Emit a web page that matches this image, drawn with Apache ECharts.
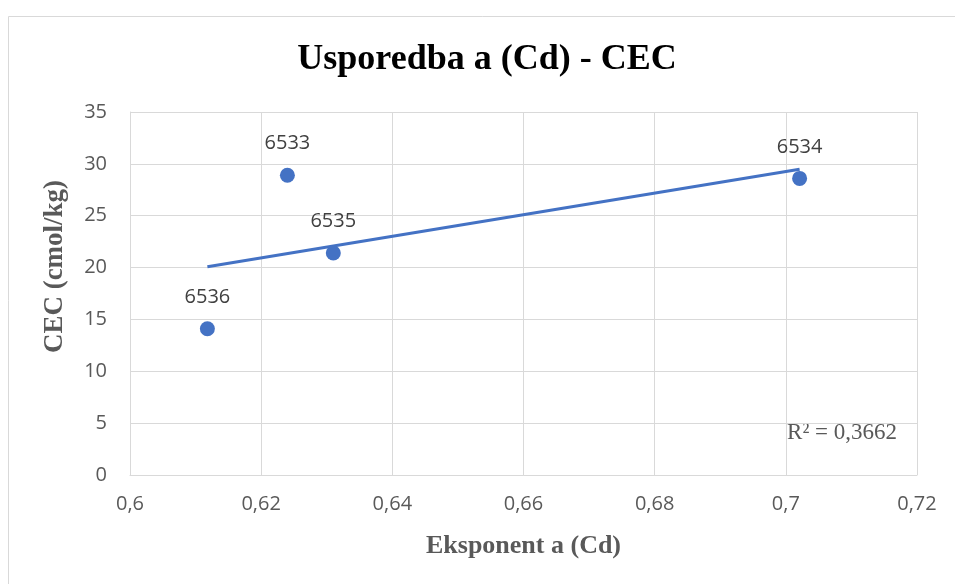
<!DOCTYPE html>
<html>
<head>
<meta charset="utf-8">
<script src="https://cdn.jsdelivr.net/npm/echarts@6/dist/echarts.min.js"></script>
<style>
  html, body { margin: 0; padding: 0; background: #fff; }
  #chart { width: 955px; height: 584px; }
</style>
</head>
<body>
<div id="chart"></div>
<script>
// uzorci i vrijednosti očitane sa slike
const sampleNames = ['6536', '6533', '6535', '6534'];
const exponentA = [0.6118, 0.6240, 0.6310, 0.7021];
const cecValues = [14.1, 28.9, 21.4, 28.6];
const r2Text = 'R² = 0,3662';

// linearni trend (najmanji kvadrati)
const n = exponentA.length;
const mx = exponentA.reduce((s, v) => s + v, 0) / n;
const my = cecValues.reduce((s, v) => s + v, 0) / n;
let sxy = 0, sxx = 0;
exponentA.forEach((x, i) => {
    sxy += (x - mx) * (cecValues[i] - my);
    sxx += (x - mx) * (x - mx);
});
const slope = sxy / sxx;
const intercept = my - slope * mx;
const xMin = Math.min(...exponentA);
const xMax = Math.max(...exponentA);
const trend = [[xMin, intercept + slope * xMin], [xMax, intercept + slope * xMax]];

const points = exponentA.map((x, i) => ({ value: [x, cecValues[i]], name: sampleNames[i] }));

const gridColor = '#d9d9d9';
const labelColor = '#595959';
const serif = '"Liberation Serif", "Times New Roman", serif';
const sans = '"Open Sans", "Noto Sans", sans-serif';

var myChart = echarts.init(document.getElementById('chart'));
var option = {
    backgroundColor: '#fff',
    animation: false,
    title: {
        text: 'Usporedba a (Cd) - CEC',
        left: 482,
        top: 37,
        textAlign: 'center',
        textStyle: { fontFamily: serif, fontSize: 36, fontWeight: 'bold', color: '#000' }
    },
    grid: { left: 130, right: 38, top: 112, bottom: 109 },
    xAxis: {
        type: 'value',
        min: 0.6,
        max: 0.72,
        interval: 0.02,
        name: 'Eksponent a (Cd)',
        nameLocation: 'middle',
        nameGap: 58,
        nameTextStyle: { fontFamily: serif, fontSize: 26, fontWeight: 'bold', color: labelColor },
        axisLine: { show: true, lineStyle: { color: gridColor, width: 1 } },
        axisTick: { show: false },
        axisLabel: {
            margin: 19,
            fontFamily: sans,
            fontSize: 20,
            color: labelColor,
            formatter: v => String(parseFloat(v.toFixed(2))).replace('.', ',')
        },
        splitLine: { show: true, lineStyle: { color: gridColor, width: 1 } }
    },
    yAxis: {
        type: 'value',
        min: 0,
        max: 35,
        interval: 5,
        name: 'CEC (cmol/kg)',
        nameLocation: 'middle',
        nameGap: 61,
        nameTextStyle: {
            fontFamily: serif, fontSize: 27, fontWeight: 'bold', color: labelColor,
            padding: [0, 0, 0, 54]
        },
        axisLine: { show: true, lineStyle: { color: gridColor, width: 1 } },
        axisTick: { show: false },
        axisLabel: { margin: 23, fontFamily: sans, fontSize: 20, color: labelColor },
        splitLine: { show: true, lineStyle: { color: gridColor, width: 1 } }
    },
    graphic: [
        {
            type: 'rect',
            shape: { x: 8.5, y: 16.5, width: 1000, height: 700 },
            style: { fill: 'none', stroke: gridColor, lineWidth: 1 },
            silent: true
        },
        {
            type: 'text',
            right: 58,
            top: 421,
            style: { text: r2Text, font: '23px ' + serif, fill: labelColor }
        }
    ],
    series: [
        {
            type: 'line',
            data: trend,
            showSymbol: false,
            lineStyle: { color: '#4472c4', width: 3 },
            z: 2
        },
        {
            type: 'scatter',
            data: points,
            symbolSize: 15,
            itemStyle: { color: '#4472c4', opacity: 1 },
            label: {
                show: true,
                position: 'top',
                distance: 14,
                formatter: p => p.name,
                fontFamily: sans,
                fontSize: 20,
                color: '#404040'
            },
            z: 3
        }
    ]
};
myChart.setOption(option);
</script>
</body>
</html>
